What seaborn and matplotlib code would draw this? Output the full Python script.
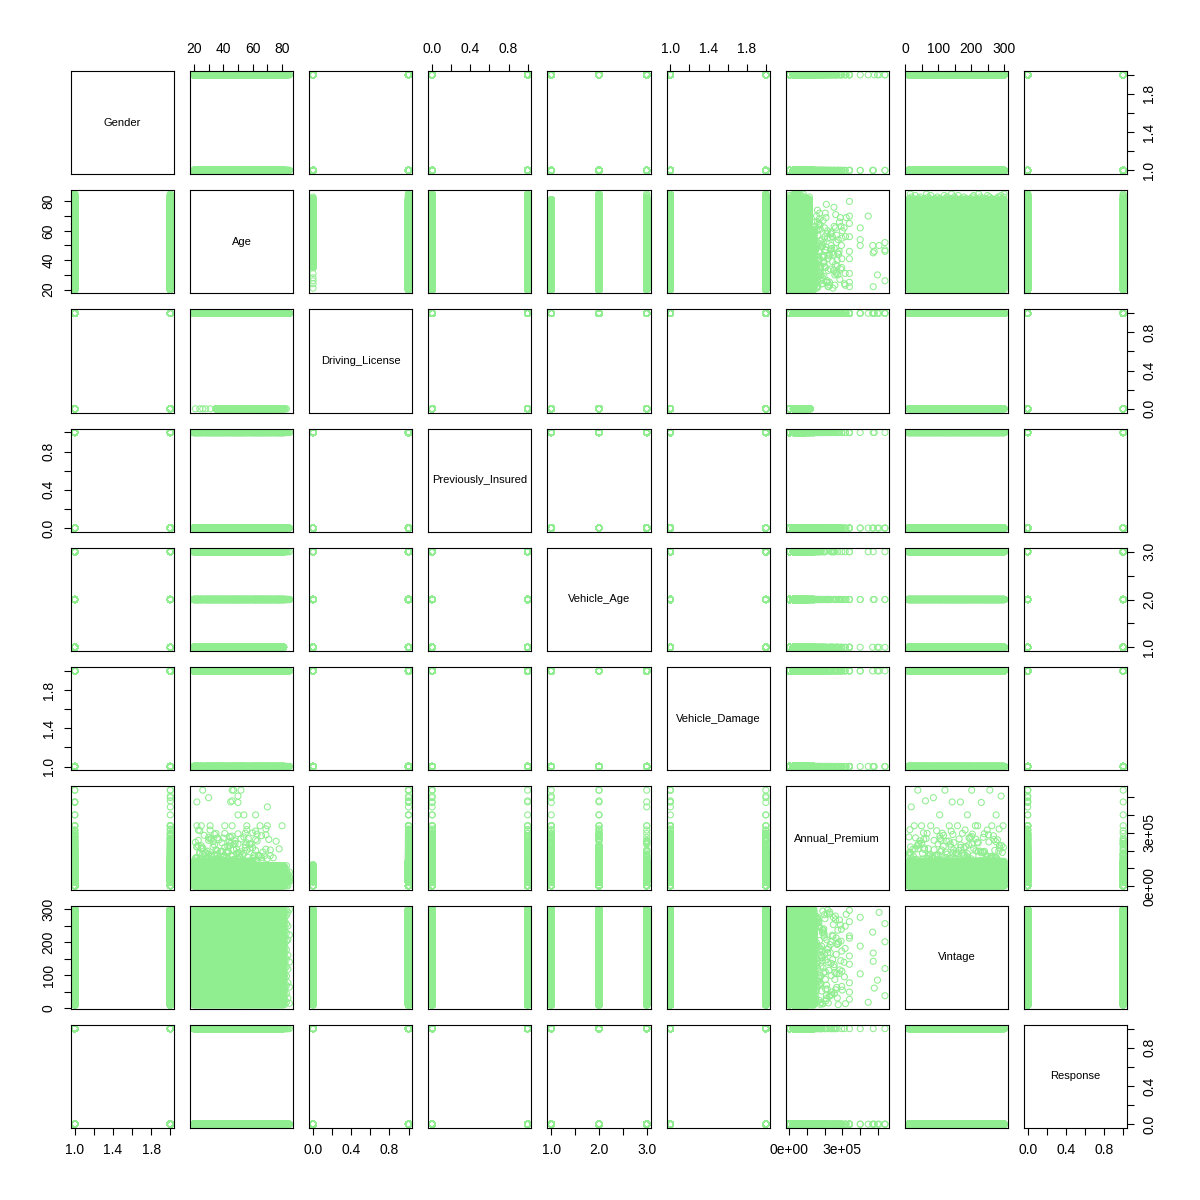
import numpy as np
import pandas as pd
import matplotlib
matplotlib.use("Agg")
import matplotlib.pyplot as plt
import seaborn as sns

# ---------------- data ----------------
var_names = ["Gender", "Age", "Driving_License", "Previously_Insured",
             "Vehicle_Age", "Vehicle_Damage", "Annual_Premium", "Vintage", "Response"]

grid_ages = [20, 21, 22, 23, 24, 25, 26, 27, 28, 29, 30, 31, 32, 33, 34, 35, 36, 37, 38, 39,
             40, 41, 42, 43, 44, 45, 46, 47, 48, 49, 50, 51, 52, 53, 54, 55, 56, 57, 58, 59,
             60, 61, 62, 63, 64, 65, 66, 67, 68, 69, 70, 71, 72, 73, 74, 75, 76, 77, 78, 79,
             80, 81]
grid_vintages = [10, 14, 18, 22, 26, 30, 34, 38, 42, 46, 50, 54, 58, 62, 66, 70, 74, 78, 82, 86,
                 90, 94, 98, 102, 106, 110, 114, 118, 122, 126, 130, 134, 138, 142, 146, 150,
                 154, 158, 162, 166, 170, 174, 178, 182, 186, 190, 194, 198, 202, 206, 210, 214,
                 218, 222, 226, 230, 234, 238, 242, 246, 250, 254, 258, 262, 266, 270, 274, 278,
                 282, 286, 290, 294, 299]
prem_cycle_young = [2630, 24000, 31000, 38000, 45000, 52000, 27000, 61000, 35000, 70000,
                    2630, 42000, 29000, 80000, 48000, 33000, 90000, 56000, 26000, 100000,
                    40000, 65000, 2630, 30000, 110000, 44000, 36000, 75000, 120000, 28000,
                    50000, 128000, 39000, 58000, 135000, 32000, 85000, 2630, 46000, 95000,
                    140000]
prem_cycle_old = [2630, 25000, 33000, 41000, 28000, 50000, 36000, 60000, 2630, 44000,
                  30000, 70000, 38000, 54000, 27000, 80000, 47000, 32000, 90000, 2630,
                  40000, 64000, 29000, 100000, 35000, 57000, 43000, 75000, 31000, 108000,
                  2630, 49000, 37000, 85000, 26000, 115000, 52000]
young_max_age = 60

old_ages = [82, 82, 82, 82, 82, 82, 82, 82, 82, 82, 82, 82, 82, 82, 82, 82, 82, 82, 82,
            83, 83, 83, 83, 83, 83, 83, 83, 83, 83, 83, 83,
            84, 84, 84, 84, 84, 84, 84,
            85, 85, 85, 85, 85]
old_vintages = [12, 25, 41, 58, 73, 90, 104, 121, 137, 152, 169, 184, 198, 215, 231, 246, 262, 277, 293,
                18, 44, 69, 97, 126, 149, 177, 203, 228, 255, 281, 298,
                30, 77, 118, 160, 207, 249, 290,
                15, 64, 140, 222, 299]

mid_premiums = [132000, 135000, 138000, 140000, 142000, 145000, 147000, 150000, 152000, 155000,
                133000, 137000, 141000, 144000, 148000, 151000, 154000, 157000, 160000, 163000,
                136000, 139000, 143000, 146000, 149000, 153000, 158000, 162000, 166000, 170000,
                134000, 142000, 150000, 156000, 161000, 167000, 172000, 178000, 184000, 190000,
                139000, 147000, 159000, 168000, 175000, 182000, 188000, 195000, 202000, 210000,
                145000, 155000, 165000, 176000, 186000, 197000, 208000, 218000, 228000, 238000,
                152000, 171000, 189000, 204000, 221000, 236000, 249000, 258000, 266000, 272000,
                160000, 180000, 199000, 215000, 232000, 245000, 255000, 262000, 268000, 275000]
mid_ages = [23, 45, 31, 52, 27, 61, 38, 47, 24, 70,
            33, 58, 26, 41, 66, 29, 50, 36, 74, 22,
            44, 55, 28, 63, 35, 48, 21, 57, 40, 68,
            25, 53, 37, 60, 30, 46, 72, 34, 49, 42,
            59, 27, 43, 65, 32, 51, 24, 39, 56, 78,
            46, 22, 61, 35, 54, 29, 69, 41, 25, 50,
            38, 64, 28, 47, 33, 58, 44, 23, 52, 36,
            66, 30, 43, 26, 55, 39, 48, 62, 32, 45]
mid_vintages = [45, 210, 132, 78, 265, 19, 187, 241, 96, 150,
                288, 62, 174, 226, 113, 35, 199, 257, 84, 141,
                14, 233, 167, 102, 279, 56, 190, 121, 248, 71,
                159, 217, 28, 136, 272, 91, 205, 180, 52, 294,
                118, 243, 66, 186, 12, 154, 229, 107, 271, 38,
                197, 129, 260, 75, 144, 221, 23, 168, 285, 99,
                51, 177, 238, 110, 16, 202, 253, 87, 163, 31,
                276, 127, 214, 58, 192, 147, 44, 268, 105, 236]

mid2_premiums = [165000, 172000, 178000, 185000, 192000, 199000, 206000, 213000, 220000, 227000,
                 168000, 176000, 183000, 190000, 197000, 204000, 211000, 218000, 225000, 232000,
                 240000, 247000, 254000, 261000, 268000, 275000, 282000, 289000, 170000, 181000,
                 193000, 205000, 217000, 229000, 241000, 253000, 265000, 277000, 163000, 188000,
                 174000, 196000, 209000, 223000, 237000, 251000, 263000, 279000, 286000, 166000,
                 179000, 201000, 214000, 234000, 244000, 258000, 271000, 284000, 291000, 187000]
mid2_ages = [29, 41, 53, 24, 67, 36, 47, 58, 22, 44,
             32, 61, 27, 50, 39, 72, 25, 55, 43, 34,
             48, 21, 63, 37, 57, 30, 46, 69, 40, 26,
             52, 35, 60, 23, 45, 76, 31, 54, 42, 28,
             64, 38, 49, 22, 59, 33, 71, 44, 27, 51,
             36, 62, 25, 47, 56, 30, 40, 66, 34, 43]
mid2_vintages = [81, 246, 17, 173, 122, 283, 58, 207, 139, 36,
                 262, 95, 188, 13, 227, 146, 70, 297, 115, 168,
                 41, 218, 132, 279, 63, 196, 105, 252, 24, 159,
                 234, 87, 178, 291, 49, 125, 213, 11, 268, 153,
                 99, 240, 29, 183, 136, 274, 56, 201, 116, 258,
                 74, 162, 286, 39, 221, 108, 193, 267, 144, 15]

high_premiums = [540165, 540165, 540165, 540165, 498000, 474000, 507000, 474000, 480000, 471000,
                 446000, 401000, 401000, 401000, 340000, 340000, 340000, 340000, 340000, 340000,
                 340000, 340000, 340000, 316000, 312000, 316000, 318000, 310000, 322000, 297000,
                 297000, 295000, 298000, 300000, 293000]
high_ages = [26, 46, 47, 52, 30, 22, 50, 45, 46, 50,
             70, 50, 54, 62, 22, 25, 31, 41, 46, 56,
             65, 70, 80, 23, 24, 31, 56, 62, 69, 35,
             41, 50, 55, 60, 63]
high_vintages = [120, 256, 38, 201, 85, 167, 290, 142, 61, 230,
                 18, 275, 104, 188, 49, 212, 133, 262, 77, 158,
                 296, 27, 219, 181, 95, 248, 14, 139, 284, 66,
                 173, 239, 112, 55, 203]

dl0_young_ages = [21, 24, 26, 28, 31]
dl0_young_vintages = [60, 150, 220, 95, 270]
dl0_young_premiums = [38000, 45000, 30000, 52000, 41000]

gender_cycle = [1, 2]
pi_cycle = [0, 1, 0]
va_cycle = [1, 2, 2, 1, 3]
vd_cycle = [2, 1, 2, 1, 2, 1, 1]
resp_cycle = [0, 0, 0, 1, 0, 0, 0, 0, 1, 0, 0]
dl_cycle = [1, 1, 1, 1, 1, 1, 0, 1, 1, 1, 1, 1, 1]
dl0_min_age = 35
dl0_max_premium = 120000
va1_max_age = 81

# ---------------- build table ----------------
ages, vints, prems = [], [], []
k = 0
for a in grid_ages:
    for v in grid_vintages:
        cyc = prem_cycle_young if a <= young_max_age else prem_cycle_old
        ages.append(a); vints.append(v); prems.append(cyc[k % len(cyc)])
        k += 1
for a, v in zip(old_ages, old_vintages):
    ages.append(a); vints.append(v); prems.append(prem_cycle_old[k % len(prem_cycle_old)])
    k += 1
ages += mid_ages + mid2_ages + high_ages
vints += mid_vintages + mid2_vintages + high_vintages
prems += mid_premiums + mid2_premiums + high_premiums

ages = np.array(ages); vints = np.array(vints); prems = np.array(prems)
idx = np.arange(len(ages))
gender = np.array(gender_cycle)[idx % len(gender_cycle)]
pi = np.array(pi_cycle)[idx % len(pi_cycle)]
va = np.array(va_cycle)[idx % len(va_cycle)]
va = np.where((ages > va1_max_age) & (va == 1), 2, va)
vd = np.array(vd_cycle)[idx % len(vd_cycle)]
resp = np.array(resp_cycle)[idx % len(resp_cycle)]
dl_raw = np.array(dl_cycle)[idx % len(dl_cycle)]
dl = np.where((dl_raw == 0) & (ages >= dl0_min_age) & (prems <= dl0_max_premium), 0, 1)

df = pd.DataFrame({
    "Gender": gender, "Age": ages, "Driving_License": dl, "Previously_Insured": pi,
    "Vehicle_Age": va, "Vehicle_Damage": vd, "Annual_Premium": prems,
    "Vintage": vints, "Response": resp,
})
n_extra = len(dl0_young_ages)
e_idx = np.arange(n_extra)
extra = pd.DataFrame({
    "Gender": np.array(gender_cycle)[e_idx % 2],
    "Age": dl0_young_ages, "Driving_License": [0] * n_extra,
    "Previously_Insured": np.array(pi_cycle)[e_idx % 3],
    "Vehicle_Age": np.array(va_cycle)[e_idx % 5],
    "Vehicle_Damage": np.array(vd_cycle)[e_idx % 7],
    "Annual_Premium": dl0_young_premiums, "Vintage": dl0_young_vintages,
    "Response": np.array(resp_cycle)[e_idx % 11],
})
df = pd.concat([df, extra], ignore_index=True)

# ---------------- ticks ----------------
tick_spec = {
    "Gender": ([1.0, 1.2, 1.4, 1.6, 1.8, 2.0], ["1.0", "", "1.4", "", "1.8", ""]),
    "Age": ([20, 30, 40, 50, 60, 70, 80], ["20", "", "40", "", "60", "", "80"]),
    "Driving_License": ([0, 0.2, 0.4, 0.6, 0.8, 1.0], ["0.0", "", "0.4", "", "0.8", ""]),
    "Previously_Insured": ([0, 0.2, 0.4, 0.6, 0.8, 1.0], ["0.0", "", "0.4", "", "0.8", ""]),
    "Vehicle_Age": ([1.0, 1.5, 2.0, 2.5, 3.0], ["1.0", "", "2.0", "", "3.0"]),
    "Vehicle_Damage": ([1.0, 1.2, 1.4, 1.6, 1.8, 2.0], ["1.0", "", "1.4", "", "1.8", ""]),
    "Annual_Premium": ([0, 1e5, 2e5, 3e5, 4e5, 5e5], ["0e+00", "", "", "3e+05", "", ""]),
    "Vintage": ([0, 50, 100, 150, 200, 250, 300], ["0", "", "100", "", "200", "", "300"]),
    "Response": ([0, 0.2, 0.4, 0.6, 0.8, 1.0], ["0.0", "", "0.4", "", "0.8", ""]),
}

# ---------------- plot ----------------
sns.set_style("white")
plt.rcParams["font.family"] = ["Liberation Sans", "DejaVu Sans"]

fig, axes = plt.subplots(9, 9, figsize=(12, 12), dpi=100)
plt.subplots_adjust(left=71 / 1200, right=1127 / 1200, bottom=1 - 1128 / 1200,
                    top=1 - 71 / 1200, wspace=16 / 103, hspace=16 / 103)

limits = {}
for v in var_names:
    lo, hi = df[v].min(), df[v].max()
    pad = 0.04 * (hi - lo)
    limits[v] = (lo - pad, hi + pad)

green = "#90EE90"
n = len(var_names)
for i, yv in enumerate(var_names):
    for j, xv in enumerate(var_names):
        ax = axes[i, j]
        if i == j:
            ax.text(0.5, 0.5, yv, transform=ax.transAxes, ha="center", va="center",
                    fontsize=8, color="black")
        else:
            sns.scatterplot(x=df[xv], y=df[yv], ax=ax, marker="o", s=19, color="none",
                            edgecolor=green, linewidth=0.75, legend=False)
        ax.set_xlim(limits[xv])
        ax.set_ylim(limits[yv])
        ax.set_xlabel("")
        ax.set_ylabel("")
        ax.set_xticks([])
        ax.set_yticks([])
        for s in ax.spines.values():
            s.set_visible(True)
            s.set_color("black")
            s.set_linewidth(0.8)

        tp = dict(direction="out", length=5, width=0.8, labelsize=10, pad=6, colors="black")
        if i == 0 and j % 2 == 1:
            t, l = tick_spec[xv]
            ax.set_xticks(t)
            ax.set_xticklabels(l)
            ax.xaxis.set_ticks_position("top")
            ax.tick_params(axis="x", top=True, bottom=False, labeltop=True,
                           labelbottom=False, **tp)
        if i == n - 1 and j % 2 == 0:
            t, l = tick_spec[xv]
            ax.set_xticks(t)
            ax.set_xticklabels(l)
            ax.tick_params(axis="x", bottom=True, labelbottom=True, **tp)
        if j == 0 and i % 2 == 1:
            t, l = tick_spec[yv]
            ax.set_yticks(t)
            ax.set_yticklabels(l, rotation=90, va="center")
            ax.tick_params(axis="y", left=True, labelleft=True, **tp)
        if j == n - 1 and i % 2 == 0:
            t, l = tick_spec[yv]
            ax.set_yticks(t)
            ax.set_yticklabels(l, rotation=90, va="center")
            ax.yaxis.set_ticks_position("right")
            ax.tick_params(axis="y", right=True, left=False, labelright=True,
                           labelleft=False, **tp)

fig.savefig("out.png", dpi=100, facecolor="white")
